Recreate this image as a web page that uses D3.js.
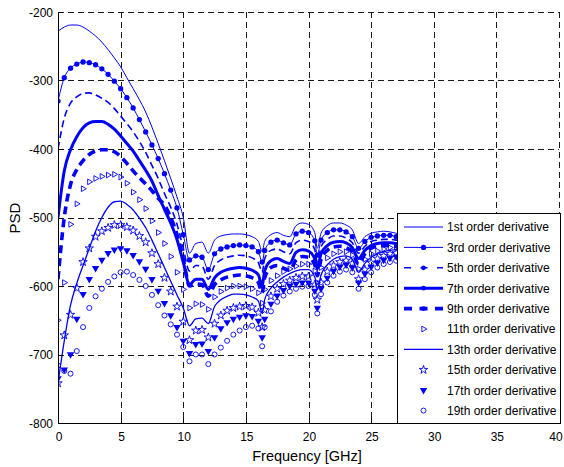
<!DOCTYPE html>
<html><head><meta charset="utf-8">
<script src="https://cdn.jsdelivr.net/npm/d3@7"></script>
<style>body{margin:0;background:#fff}svg{display:block}text{font-family:Arial,"Liberation Sans",sans-serif}</style>
</head><body><svg id="c" width="564" height="467"></svg>
<script>
const freqs=[0,0.5,1,1.5,2,2.5,3,3.5,4,4.5,5,5.5,6,6.5,7,7.5,8,8.5,9,9.5,10,10.5,11,11.5,12,12.5,13,13.5,14,14.5,15,15.5,16,16.3,16.5,17,17.5,18,18.5,19,19.5,20,20.5,20.7,21,21.5,22,22.5,23,23.5,24,24.5,25,25.5,26,26.5,27,27.5];
const xTicks=[0,5,10,15,20,25,30,35,40];
const yTicks=[-800,-700,-600,-500,-400,-300,-200];
const d1=[-228,-222,-219,-219,-222,-228,-235,-244,-255,-267,-280,-296,-312,-328,-346,-368,-392,-417,-443,-470,-500,-552,-538,-536,-552,-533,-527,-525,-524,-524,-525,-528,-535,-550,-535,-525,-522,-526,-528,-512,-508,-510,-522,-545,-523,-512,-508,-508,-511,-518,-538,-528,-523,-521,-520,-521,-523,-525];
const d3v=[-330,-296,-282,-276,-273,-274,-277,-283,-291,-301,-312,-325,-340,-357,-375,-394,-414,-436,-460,-486,-525,-562,-556,-558,-576,-553,-546,-543,-541,-540,-541,-543,-550,-565,-548,-536,-533,-537,-540,-524,-520,-522,-534,-555,-533,-522,-518,-518,-521,-528,-545,-535,-529,-527,-526,-526,-528,-530];
const d5=[-400,-355,-333,-324,-319,-318,-321,-326,-332,-341,-352,-363,-375,-389,-405,-424,-443,-465,-485,-510,-545,-578,-570,-571,-590,-570,-562,-558,-556,-555,-556,-559,-566,-580,-560,-548,-546,-550,-553,-537,-533,-535,-547,-565,-543,-532,-527,-527,-530,-537,-552,-542,-535,-533,-532,-532,-533,-535];
const d7=[-500,-432,-401,-382,-369,-362,-360,-360,-364,-371,-381,-392,-403,-417,-431,-447,-468,-488,-508,-532,-565,-598,-590,-590,-605,-588,-580,-576,-574,-573,-574,-577,-584,-600,-578,-563,-560,-564,-567,-551,-547,-549,-560,-575,-553,-541,-536,-535,-537,-544,-560,-548,-541,-538,-537,-537,-538,-540];
const d9=[-590,-500,-452,-430,-417,-408,-403,-401,-401,-404,-411,-421,-432,-442,-451,-461,-472,-482,-500,-525,-560,-600,-597,-598,-615,-598,-591,-587,-585,-584,-585,-588,-595,-610,-588,-573,-570,-574,-577,-562,-557,-558,-569,-585,-561,-548,-543,-542,-544,-550,-568,-553,-545,-542,-541,-541,-542,-544];
const d11=[-650,-595,-510,-480,-458,-448,-443,-440,-438,-437,-441,-450,-463,-474,-487,-505,-522,-538,-557,-580,-605,-632,-626,-627,-634,-616,-608,-603,-600,-600,-601,-604,-610,-625,-605,-592,-585,-579,-575,-571,-568,-568,-578,-595,-573,-559,-553,-550,-550,-555,-575,-561,-553,-549,-546,-544,-543,-542];
const d13=[-742,-680,-628,-596,-570,-545,-520,-500,-485,-477,-476,-481,-489,-501,-515,-533,-553,-573,-593,-613,-632,-658,-648,-647,-655,-630,-620,-615,-612,-612,-613,-616,-622,-640,-620,-603,-594,-587,-582,-578,-576,-576,-587,-605,-584,-569,-561,-557,-556,-561,-580,-567,-558,-553,-550,-548,-547,-546];
const d15=[-742,-672,-642,-603,-565,-545,-528,-520,-515,-511,-511,-514,-519,-527,-536,-552,-568,-588,-608,-630,-652,-679,-665,-664,-675,-655,-643,-636,-632,-630,-629,-631,-639,-660,-635,-615,-604,-597,-592,-588,-586,-586,-598,-620,-595,-579,-570,-565,-563,-567,-590,-576,-566,-560,-556,-553,-552,-551];
const d17=[-735,-722,-700,-648,-612,-590,-574,-562,-552,-547,-545,-548,-555,-564,-575,-590,-607,-625,-643,-660,-680,-698,-685,-684,-695,-675,-662,-653,-648,-645,-643,-644,-651,-675,-648,-626,-614,-606,-600,-597,-595,-595,-607,-632,-604,-588,-578,-572,-569,-573,-595,-582,-572,-566,-562,-559,-557,-556];
const d19=[-716,-724,-728,-695,-660,-632,-615,-604,-594,-586,-580,-579,-584,-591,-600,-613,-628,-643,-656,-671,-689,-710,-700,-700,-714,-700,-690,-680,-671,-665,-660,-658,-662,-688,-660,-637,-623,-614,-608,-604,-601,-600,-613,-640,-612,-595,-585,-579,-576,-580,-604,-590,-580,-573,-568,-565,-563,-562];
const seriesNames=["1st order derivative","3rd order derivative","5th order derivative","7th order derivative","9th order derivative","11th order derivative","13th order derivative","15th order derivative","17th order derivative","19th order derivative"];
const seriesData=[d1,d3v,d5,d7,d9,d11,d13,d15,d17,d19];

const BLUE="#0000ff";
const styles=[
 {line:true,w:1},
 {line:true,w:1,marker:"dot"},
 {line:true,w:1.6,dash:"7,4",legendDot:true},
 {line:true,w:3,legendDot:true},
 {line:true,w:3.6,dash:"8,5",legendDot:true},
 {line:false,marker:"triRight"},
 {line:true,w:1.3},
 {line:false,marker:"star"},
 {line:false,marker:"triDown"},
 {line:false,marker:"circle"}
];

const svg=d3.select("#c");
const x=d3.scaleLinear().domain([0,40]).range([58,559]);
const y=d3.scaleLinear().domain([-800,-200]).range([423,12]);

// grid
const g=svg.append("g");
g.selectAll(".gx").data(xTicks.filter(t=>t>0)).enter().append("line")
 .attr("x1",d=>Math.round(x(d))+0.5).attr("x2",d=>Math.round(x(d))+0.5)
 .attr("y1",y(-200)).attr("y2",y(-800))
 .attr("stroke","#1a1a1a").attr("stroke-width",1).attr("stroke-dasharray","6,4");
g.selectAll(".gy").data(yTicks.filter(t=>t>-800)).enter().append("line")
 .attr("y1",d=>Math.round(y(d))+0.5).attr("y2",d=>Math.round(y(d))+0.5)
 .attr("x1",x(0)).attr("x2",x(40))
 .attr("stroke","#1a1a1a").attr("stroke-width",1).attr("stroke-dasharray","6,4");

svg.append("defs").append("clipPath").attr("id","pc").append("rect")
 .attr("x",x(0)).attr("y",y(-200)).attr("width",x(40)-x(0)).attr("height",y(-800)-y(-200));

const plot=svg.append("g").attr("clip-path","url(#pc)");
const lineGen=d3.line().x((d,i)=>x(freqs[i])).y(d=>y(d)).curve(d3.curveMonotoneX);

function markerPath(type){
 if(type==="dot") return d3.symbol().type(d3.symbolCircle).size(22)();
 if(type==="circle") return d3.symbol().type(d3.symbolCircle).size(20)();
 if(type==="star") return d3.symbol().type(d3.symbolStar).size(22)();
 if(type==="triRight"||type==="triDown") return d3.symbol().type(d3.symbolTriangle).size(type==="triDown"?24:14)();
 return null;
}
function markerRot(type){return type==="triRight"?90:(type==="triDown"?180:0);}
function styleMarker(sel,type){
 if(type==="dot"||type==="triDown") sel.attr("fill",BLUE).attr("stroke","none");
 else sel.attr("fill","none").attr("stroke",BLUE).attr("stroke-width",0.9);
}

seriesData.forEach((data,k)=>{
 const s=styles[k];
 if(s.line){
  plot.append("path").datum(data).attr("d",lineGen).attr("fill","none")
   .attr("stroke",BLUE).attr("stroke-width",s.w).attr("stroke-dasharray",s.dash||null)
   .attr("stroke-linejoin","round");
 }
 if(s.marker){
  const p=markerPath(s.marker), r=markerRot(s.marker);
  const m=plot.append("g").selectAll("path").data(data).enter().append("path")
   .attr("d",p).attr("transform",(d,i)=>`translate(${x(freqs[i])},${y(d)}) rotate(${r})`);
  styleMarker(m,s.marker);
 }
});

// axes
const ax=svg.append("g");
ax.append("line").attr("x1",58.5).attr("x2",58.5).attr("y1",12).attr("y2",423.5).attr("stroke","#000");
ax.append("line").attr("x1",58).attr("x2",559).attr("y1",423.5).attr("y2",423.5).attr("stroke","#000");
xTicks.forEach(t=>{
 const px=Math.round(x(t))+0.5;
 ax.append("line").attr("x1",px).attr("x2",px).attr("y1",423).attr("y2",418).attr("stroke","#000");
 ax.append("text").attr("x",Math.min(x(t)+1,556)).attr("y",441).attr("text-anchor","middle").attr("font-size",12).text(t);
});
yTicks.forEach(t=>{
 const py=Math.round(y(t))+0.5;
 ax.append("line").attr("x1",58).attr("x2",63).attr("y1",py).attr("y2",py).attr("stroke","#000");
 ax.append("text").attr("x",53).attr("y",y(t)+4.5).attr("text-anchor","end").attr("font-size",12).text(t);
});
svg.append("text").attr("x",307).attr("y",461).attr("text-anchor","middle").attr("font-size",14.5).text("Frequency [GHz]");
svg.append("text").attr("transform","translate(20,218) rotate(-90)").attr("text-anchor","middle").attr("font-size",15).text("PSD");

// legend
const lg=svg.append("g");
lg.append("rect").attr("x",397.5).attr("y",213.5).attr("width",163).attr("height",210).attr("fill","#fff").attr("stroke","#000").attr("stroke-width",1);
seriesNames.forEach((name,k)=>{
 const s=styles[k], cy=227+k*20.4;
 if(s.line){
  lg.append("line").attr("x1",404).attr("x2",443).attr("y1",cy).attr("y2",cy)
   .attr("stroke",BLUE).attr("stroke-width",s.w).attr("stroke-dasharray",s.dash?(k===2?"7,9.5":"8,7.5"):null);
 }
 if(s.legendDot){
  lg.append("circle").attr("cx",423.5).attr("cy",cy).attr("r",2.4).attr("fill",BLUE);
 }
 if(s.marker){
  const m=lg.append("path").attr("d",markerPath(s.marker)).attr("transform",`translate(423.5,${cy}) rotate(${markerRot(s.marker)})`);
  styleMarker(m,s.marker);
 }
 lg.append("text").attr("x",447).attr("y",cy+4.3).attr("font-size",12).text(name);
});
</script></body></html>
